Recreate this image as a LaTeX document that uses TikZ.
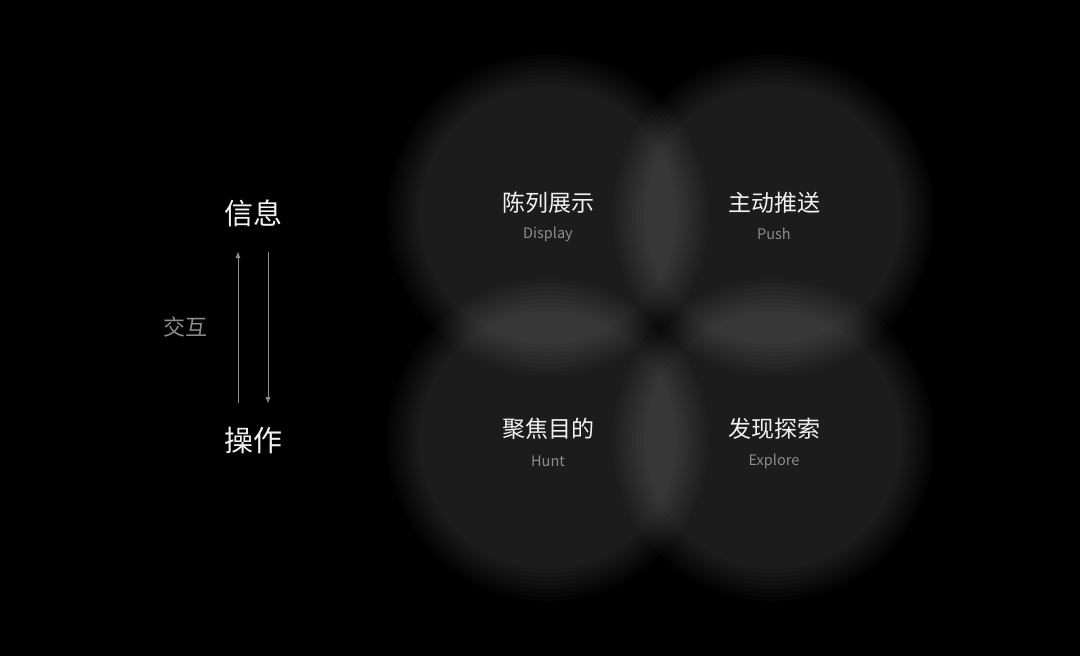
\documentclass[tikz,border=0pt]{standalone}
\usepackage{fontspec}
\usepackage{tikz}
\usepackage{xcolor}
\usetikzlibrary{arrows.meta,positioning}
\newfontfamily\cjk{Noto Sans CJK SC}
\definecolor{soft-white}{HTML}{F2F2F2}
\definecolor{mid-gray}{HTML}{8C8C8C}
\tikzset{
    title-text/.style = {text=soft-white, font=\cjk\fontsize{29}{32}\selectfont, inner sep=0pt},
    side-text/.style = {text=mid-gray, font=\cjk\fontsize{22}{24}\selectfont, inner sep=0pt},
    zh-label/.style = {text=soft-white, font=\cjk\fontsize{23}{26}\selectfont, inner sep=0pt},
    en-label/.style = {text=mid-gray, font=\cjk\fontsize{14.5}{16}\selectfont, inner sep=0pt},
    flow/.style = {draw=mid-gray, line width=1pt, -{Triangle[length=6pt,width=4.5pt]}},
    blur-layer/.style = {fill=white, fill opacity=0.0155},
}

\begin{document}
\begin{tikzpicture}[x=1pt,y=-1pt]
\fill[black] (0,0) rectangle (1080,656);
\useasboundingbox (0,0) rectangle (1080,656);

% soft circles
\coordinate (display) at (548,215);
\coordinate (push) at (773,215);
\coordinate (hunt) at (548,440);
\coordinate (explore) at (773,440);
\foreach \c in {display,push,hunt,explore}{
    \foreach \d in {-16,-12,...,16}{
        \fill[blur-layer] (\c) circle (145+\d);
    }
}

% left side
\node[title-text] (info) at (253,213) {信息};
\node[title-text] (op) at (253,440) {操作};
\node[side-text] (interact) at (185,327) {交互};
\coordinate (up-from) at (238,403);
\coordinate (up-to) at (238,252);
\coordinate (down-from) at (268,252);
\coordinate (down-to) at (268,403);
\draw[flow] (up-from) -- (up-to);
\draw[flow] (down-from) -- (down-to);

% labels
\node[zh-label] (display-zh) at (548,203) {陈列展示};
\node[en-label] (display-en) at (548,234) {Display};
\node[zh-label] (push-zh) at (774,203) {主动推送};
\node[en-label] (push-en) at (774,234) {Push};
\node[zh-label] (hunt-zh) at (548,429) {聚焦目的};
\node[en-label] (hunt-en) at (548,461) {Hunt};
\node[zh-label] (explore-zh) at (774,429) {发现探索};
\node[en-label] (explore-en) at (774,461) {Explore};
\end{tikzpicture}
\end{document}
